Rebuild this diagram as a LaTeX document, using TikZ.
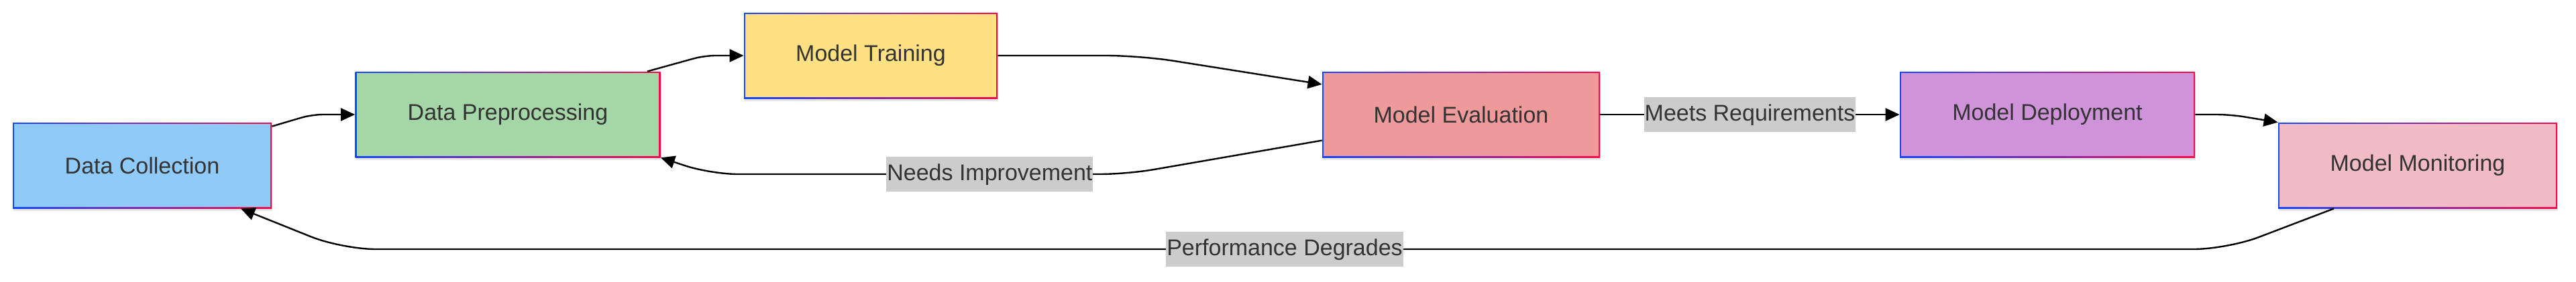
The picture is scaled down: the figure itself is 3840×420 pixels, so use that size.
\documentclass[tikz,border=0pt]{standalone}
\usepackage{fontspec}
\setmainfont{Liberation Sans}
\usepackage{xcolor}
\usepackage{tikz}
\usetikzlibrary{arrows.meta, positioning, calc, shadows}

\definecolor{txtgray}{HTML}{333333}
\definecolor{taggray}{HTML}{CCCCCC}
\definecolor{bordblue}{HTML}{1446FF}
\definecolor{bordred}{HTML}{F50A4A}
\definecolor{collectfill}{HTML}{90CAF9}
\definecolor{prepfill}{HTML}{A5D6A7}
\definecolor{trainfill}{HTML}{FFE082}
\definecolor{evalfill}{HTML}{EF9A9A}
\definecolor{deployfill}{HTML}{CE93D8}
\definecolor{monitorfill}{HTML}{F0BBC4}

\begin{document}
\begin{tikzpicture}[
      x=0.5pt, y=-0.5pt,
      every node/.style={font=\fontsize{17}{20}\selectfont, text=txtgray},
      stage/.style={rectangle, minimum height=64pt, inner sep=0pt,
        left color=bordblue, right color=bordred,
        drop shadow={shadow xshift=0.6pt, shadow yshift=-2.2pt, opacity=0.18},
        path picture={\fill[#1] ([shift={(1.2pt,-1.2pt)}]path picture bounding box.north west)
          rectangle ([shift={(-1.2pt,1.2pt)}]path picture bounding box.south east);}},
      flow/.style={draw=black, line width=1.2pt, -{Triangle[length=10.5pt,width=9.5pt]}},
      tag/.style={fill=taggray, sharp corners, inner xsep=0.5pt, inner ysep=5pt,
        text height=12.5pt, text depth=3.5pt}
    ]
      \useasboundingbox (0,0) rectangle (3840,420);

      \node[stage=collectfill, minimum width=193pt] (dc) at (212,247) {Data Collection};
      \node[stage=prepfill, minimum width=227.5pt] (dp) at (757,171) {Data Preprocessing};
      \node[stage=trainfill, minimum width=189pt] (mt) at (1298,83) {Model Training};
      \node[stage=evalfill, minimum width=207pt] (me) at (2178,171) {Model Evaluation};
      \node[stage=deployfill, minimum width=220pt] (md) at (3052,171) {Model Deployment};
      \node[stage=monitorfill, minimum width=208pt] (mm) at (3604,247) {Model Monitoring};

      \coordinate (me-top) at ($(me.north west)!0.15!(me.south west)$);
      \coordinate (me-low) at ($(me.north west)!0.8!(me.south west)$);
      \coordinate (mm-out) at ($(mm.south west)!0.2!(mm.south east)$);
      \coordinate (dc-in) at ($(dc.south west)!0.88!(dc.south east)$);

      \draw[flow, rounded corners=8pt] ([yshift=-3pt]dc.north east) -- (465,171) -- (dp.west);
      \draw[flow, rounded corners=8pt] ([xshift=-10pt]dp.north east) -- (1050,83) -- (mt.west);
      \draw[flow, rounded corners=25pt] (mt.east) -- (1700,83) -- (me-top);
      \draw[flow, rounded corners=20pt] (me-low) -- (1680,260)
        -- node[tag, pos=0.33] {Needs Improvement} (1060,260) -- (dp.south east);
      \draw[flow] (me.east) -- node[tag] {Meets Requirements} (md.west);
      \draw[flow, rounded corners=10pt] (md.east) -- (3325,171) -- (mm.north west);
      \draw[flow, rounded corners=25pt] (mm-out) -- (3320,372)
        -- node[tag] {Performance Degrades} (510,372) -- (dc-in);
    \end{tikzpicture}
\end{document}
